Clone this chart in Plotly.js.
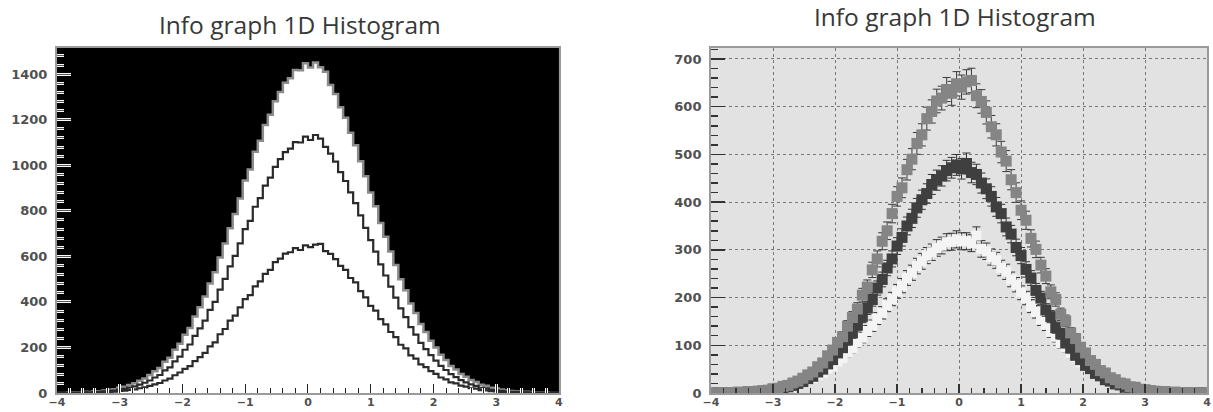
<!DOCTYPE html>
<html>
<head>
<meta charset="utf-8">
<script src="https://cdn.plot.ly/plotly-3.0.1.min.js"></script>
<style>
html,body{margin:0;padding:0;background:#ffffff;}
#chart{width:1213px;height:412px;}
</style>
</head>
<body>
<div id="chart"></div>
<script>
// ---- data ----
const chartTitle = 'Info graph 1D Histogram';
const binLow = -4;
const binHigh = 4;
const nBins = 100;
const xTickVals = [-4, -3, -2, -1, 0, 1, 2, 3, 4];
const leftYTicks = [0, 200, 400, 600, 800, 1000, 1200, 1400];
const rightYTicks = [0, 100, 200, 300, 400, 500, 600, 700];

// medium grey histogram (bottom of the stack)
const histA = [
  0,0,1,0,1,2,1,3,2,4,
  5,6,9,10,14,16,21,25,31,38,
  44,55,63,78,90,106,118,140,158,176,
  205,222,258,281,318,340,376,412,430,468,
  490,523,541,575,590,612,618,636,628,648,
  641,652,655,623,611,588,558,541,505,486,
  447,420,383,362,324,301,268,245,212,196,
  165,151,126,114,96,84,68,60,47,42,
  32,28,21,19,13,12,8,7,5,4,
  3,3,1,2,1,0,1,0,0,0
];
// dark histogram (middle of the stack)
const histB = [
  0,0,0,1,0,1,1,2,2,3,
  4,5,6,8,10,13,16,20,24,30,
  35,44,50,61,70,84,95,111,126,142,
  160,178,196,220,238,262,281,308,326,350,
  366,388,405,418,437,446,455,466,472,478,
  470,481,462,458,440,428,412,390,376,348,
  333,305,288,259,241,215,199,174,160,137,
  124,105,94,79,70,58,51,41,36,28,
  25,19,17,12,10,8,6,5,4,3,
  2,2,1,1,1,0,0,0,0,0
];
// light histogram (top of the stack)
const histC = [
  0,0,1,1,1,2,2,3,3,4,
  5,6,8,9,11,14,17,19,24,27,
  31,38,42,51,56,66,73,85,93,106,
  116,130,141,156,168,184,197,213,225,241,
  252,266,276,288,295,304,309,316,317,322,
  318,318,314,330,302,297,285,278,262,254,
  238,227,210,199,182,170,154,143,128,118,
  104,95,83,75,64,58,49,44,36,33,
  26,24,19,17,13,12,9,8,6,5,
  4,3,3,2,2,1,1,1,0,0
];

// ---- derived structures ----
const binWidth = (binHigh - binLow) / nBins;
const binEdges = [];
for (let i = 0; i <= nBins; i++) binEdges.push(+(binLow + i * binWidth).toFixed(4));
const binCenters = [];
for (let i = 0; i < nBins; i++) binCenters.push(+(binLow + (i + 0.5) * binWidth).toFixed(4));

function stepY(arr) { return arr.concat([arr[arr.length - 1]]); }
const stack1 = histA.slice();
const stack2 = histA.map((v, i) => v + histB[i]);
const stack3 = histA.map((v, i) => v + histB[i] + histC[i]);
const errA = histA.map(v => Math.sqrt(v));
const errB = histB.map(v => Math.sqrt(v));
const errC = histC.map(v => Math.sqrt(v));

const yTickFont = {family: 'DejaVu Sans', size: 13, color: '#505050', weight: 'bold'};
const xTickFont = {family: 'DejaVu Sans', size: 11, color: '#505050', weight: 'bold'};

const traces = [
  // left: stacked outline histograms
  {type: 'scatter', mode: 'lines', x: binEdges, y: stepY(stack3), xaxis: 'x', yaxis: 'y',
   line: {shape: 'hv', color: '#8c8c8c', width: 2.5}, fill: 'tozeroy', fillcolor: '#ffffff', hoverinfo: 'skip'},
  {type: 'scatter', mode: 'lines', x: binEdges, y: stepY(stack2), xaxis: 'x', yaxis: 'y',
   line: {shape: 'hv', color: '#2a2a2a', width: 2.2}, hoverinfo: 'skip'},
  {type: 'scatter', mode: 'lines', x: binEdges, y: stepY(stack1), xaxis: 'x', yaxis: 'y',
   line: {shape: 'hv', color: '#2a2a2a', width: 2.2}, hoverinfo: 'skip'},
  // overlay subplot for dark tick cores
  {type: 'scatter', mode: 'lines', x: [], y: [], xaxis: 'x3', yaxis: 'y3', hoverinfo: 'skip'},
  // right: markers with error bars
  {type: 'scatter', mode: 'markers', x: binCenters, y: histC, xaxis: 'x2', yaxis: 'y2',
   marker: {symbol: 'square', size: 10, color: '#f4f4f4'},
   error_y: {type: 'data', array: errC, visible: true, color: '#333', thickness: 1, width: 4}, hoverinfo: 'skip'},
  {type: 'scatter', mode: 'markers', x: binCenters, y: histB, xaxis: 'x2', yaxis: 'y2',
   marker: {symbol: 'square', size: 11, color: '#3f3f3f'},
   error_y: {type: 'data', array: errB, visible: true, color: '#333', thickness: 1, width: 4}, hoverinfo: 'skip'},
  {type: 'scatter', mode: 'markers', x: binCenters, y: histA, xaxis: 'x2', yaxis: 'y2',
   marker: {symbol: 'square', size: 11, color: '#858585'},
   error_y: {type: 'data', array: errA, visible: true, color: '#3a3a3a', thickness: 1, width: 4}, hoverinfo: 'skip'}
];

const leftDomX = [0.047, 0.4608];
const rightDomX = [0.5862, 0.9951];
const domY = [0.0461, 0.8835];

const layout = {
  width: 1213, height: 412,
  margin: {l: 0, r: 0, t: 0, b: 0},
  paper_bgcolor: '#ffffff',
  plot_bgcolor: 'rgba(0,0,0,0)',
  showlegend: false,
  xaxis: {
    domain: leftDomX, range: [binLow, binHigh], anchor: 'y', fixedrange: true,
    tickmode: 'array', tickvals: xTickVals, ticks: 'inside', ticklen: 9, tickwidth: 3, tickcolor: '#ffffff',
    minor: {dtick: 0.2, ticks: 'inside', ticklen: 5, tickwidth: 3, tickcolor: '#ffffff', showgrid: false},
    showgrid: false, zeroline: false, showline: true, mirror: true, linecolor: '#9a9a9a', linewidth: 2,
    tickfont: xTickFont, ticklabelstandoff: -2, ticklabeloverflow: 'allow'
  },
  yaxis: {
    domain: domY, range: [0, 1515], anchor: 'x', fixedrange: true,
    tickmode: 'array', tickvals: leftYTicks, ticks: 'inside', ticklen: 14, tickwidth: 3, tickcolor: '#ffffff',
    minor: {dtick: 40, ticks: 'inside', ticklen: 7, tickwidth: 3, tickcolor: '#ffffff', showgrid: false},
    showgrid: false, zeroline: false, showline: true, mirror: true, linecolor: '#9a9a9a', linewidth: 2,
    tickfont: yTickFont, ticklabelstandoff: 5, ticklabeloverflow: 'allow'
  },
  xaxis3: {
    overlaying: 'x', anchor: 'y3', range: [binLow, binHigh], fixedrange: true,
    tickmode: 'array', tickvals: xTickVals, ticks: 'inside', ticklen: 9, tickwidth: 1, tickcolor: '#222',
    minor: {dtick: 0.2, ticks: 'inside', ticklen: 5, tickwidth: 1, tickcolor: '#222', showgrid: false},
    showticklabels: false, showgrid: false, zeroline: false, showline: false
  },
  yaxis3: {
    overlaying: 'y', anchor: 'x3', range: [0, 1515], fixedrange: true,
    tickmode: 'array', tickvals: leftYTicks, ticks: 'inside', ticklen: 14, tickwidth: 1, tickcolor: '#555',
    minor: {dtick: 40, ticks: 'inside', ticklen: 7, tickwidth: 1, tickcolor: '#555', showgrid: false},
    showticklabels: false, showgrid: false, zeroline: false, showline: false
  },
  xaxis2: {
    domain: rightDomX, range: [binLow, binHigh], anchor: 'y2', fixedrange: true,
    tickmode: 'array', tickvals: xTickVals, ticks: 'inside', ticklen: 9, tickwidth: 1.5, tickcolor: '#333',
    minor: {dtick: 0.2, ticks: 'inside', ticklen: 5, tickwidth: 1.5, tickcolor: '#333', showgrid: false},
    showgrid: true, gridcolor: '#777', griddash: 'dot', gridwidth: 1,
    zeroline: false, showline: true, mirror: true, linecolor: '#9a9a9a', linewidth: 2,
    tickfont: xTickFont, ticklabelstandoff: -2, ticklabeloverflow: 'allow'
  },
  yaxis2: {
    domain: domY, range: [0, 723], anchor: 'x2', fixedrange: true,
    tickmode: 'array', tickvals: rightYTicks, ticks: 'inside', ticklen: 14, tickwidth: 1.5, tickcolor: '#333',
    minor: {dtick: 20, ticks: 'inside', ticklen: 7, tickwidth: 1.5, tickcolor: '#333', showgrid: false},
    showgrid: true, gridcolor: '#777', griddash: 'dot', gridwidth: 1,
    zeroline: false, showline: true, mirror: true, linecolor: '#9a9a9a', linewidth: 2,
    tickfont: yTickFont, ticklabelstandoff: 5, ticklabeloverflow: 'allow'
  },
  shapes: [
    {type: 'rect', xref: 'x domain', yref: 'y domain', x0: 0, x1: 1, y0: 0, y1: 1,
     fillcolor: '#000000', line: {width: 0}, layer: 'below'},
    {type: 'rect', xref: 'x2 domain', yref: 'y2 domain', x0: 0, x1: 1, y0: 0, y1: 1,
     fillcolor: '#e2e2e2', line: {width: 0}, layer: 'below'}
  ],
  annotations: [
    {text: chartTitle, xref: 'paper', yref: 'paper', x: 0.2473, y: 0.9417, xanchor: 'center', yanchor: 'middle',
     showarrow: false, font: {family: 'Open Sans', size: 24.5, color: '#383838'}},
    {text: chartTitle, xref: 'paper', yref: 'paper', x: 0.7873, y: 0.961, xanchor: 'center', yanchor: 'middle',
     showarrow: false, font: {family: 'Open Sans', size: 24.5, color: '#383838'}}
  ]
};

Plotly.newPlot('chart', traces, layout, {staticPlot: true, displayModeBar: false});
</script>
</body>
</html>
